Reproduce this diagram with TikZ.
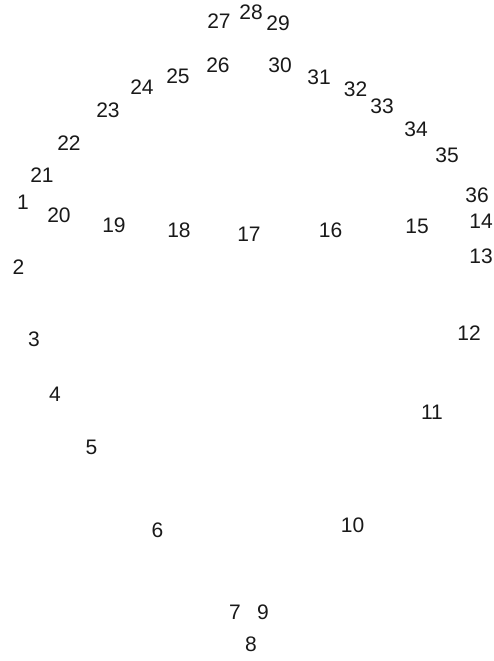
\documentclass[tikz,border=0pt]{standalone}
\usepackage{fontspec}
\setmainfont{Liberation Sans}
\usepackage{tikz}
\usetikzlibrary{positioning}
\tikzset{
    lbl/.style={font=\fontsize{21}{25}\selectfont, inner sep=0pt, text=black!90}
}

\begin{document}
\begin{tikzpicture}[x=1pt, y=-1pt]
    \useasboundingbox (0,0) rectangle (494,661);
    % Point labels
    \foreach \n/\x/\y in {1/23/202, 2/18.5/267.5, 3/34/339, 4/55/394, 5/91.5/447,
        6/157.5/530.5, 7/235/612, 8/251/644.5, 9/263/612, 10/352.5/525.5,
        11/432/412.5, 12/469/333.5, 13/481/256, 14/481/221, 15/417/226,
        16/330.5/230.5, 17/249/234.5, 18/179/230.5, 19/114/225, 20/59/215,
        21/42/175, 22/69/143, 23/108/110.5, 24/142/87.5, 25/178/76.5,
        26/218/65, 27/219/21, 28/251/12, 29/278/23, 30/280/65,
        31/319/77, 32/355.5/89, 33/382/106.5, 34/416/129.5, 35/447/155,
        36/477/195} {
        \node[lbl] (p\n) at (\x,\y) {\n};
    }
\end{tikzpicture}
\end{document}
